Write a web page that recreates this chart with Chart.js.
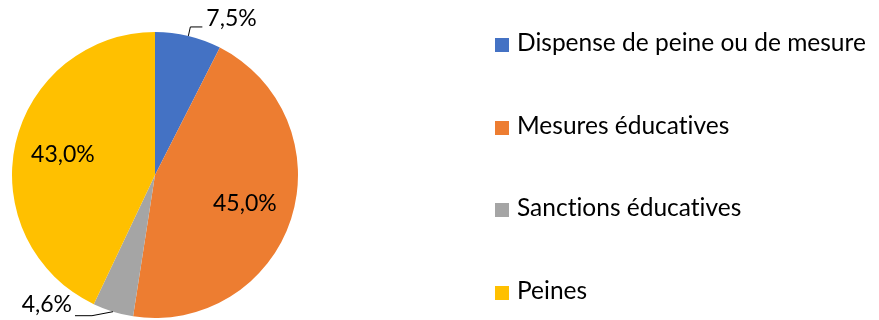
<!DOCTYPE html>
<html>
<head>
<meta charset="utf-8">
<script src="https://cdn.jsdelivr.net/npm/chart.js@4/dist/chart.umd.min.js"></script>
<style>
  html, body { margin: 0; padding: 0; background: #fff; }
  #wrap { position: relative; width: 879px; height: 320px; }
  #legend { position: absolute; left: 495px; top: 0; margin: 0; padding: 0; list-style: none;
            font-family: Lato, "Open Sans", sans-serif; font-size: 24.5px; color: #000;
            font-variant-ligatures: none; }
  #legend li { position: absolute; left: 0; white-space: nowrap; height: 28px; line-height: 28px; }
  #legend span.box { display: inline-block; width: 14px; height: 14px; margin-right: 8px; vertical-align: -1px; }
</style>
</head>
<body>
<div id="wrap">
  <canvas id="pieChart" width="879" height="320"></canvas>
  <ul id="legend"></ul>
</div>
<script>
const categories = ['Dispense de peine ou de mesure', 'Mesures éducatives', 'Sanctions éducatives', 'Peines'];
const shares = [7.5, 45.0, 4.6, 43.0];
const colors = ['#4472C4', '#ED7D31', '#A5A5A5', '#FFC000'];

// where each percentage goes: inside the slice, or outside with a leader line
const labelModes = ['outRight', 'inside', 'outLeft', 'inside'];

function fmt(v) {
    return v.toFixed(1).replace('.', ',') + '%';
}

const pieLabels = {
    id: 'pieLabels',
    afterDatasetsDraw(chart) {
        const ctx = chart.ctx;
        const arcs = chart.getDatasetMeta(0).data;
        ctx.save();
        ctx.font = '23px Lato, "Open Sans", sans-serif';
        ctx.fillStyle = '#000';
        ctx.strokeStyle = '#000';
        ctx.lineWidth = 1;
        arcs.forEach(function(arc, i) {
            const p = arc.getProps(['x', 'y', 'startAngle', 'endAngle', 'outerRadius'], true);
            const mid = (p.startAngle + p.endAngle) / 2;
            const text = fmt(shares[i]);
            if (labelModes[i] === 'inside') {
                const r = p.outerRadius * 0.66;
                ctx.textAlign = 'center';
                ctx.textBaseline = 'middle';
                ctx.fillText(text, p.x + Math.cos(mid) * r, p.y + Math.sin(mid) * r);
                return;
            }
            const ex = p.x + Math.cos(mid) * p.outerRadius;
            const ey = p.y + Math.sin(mid) * p.outerRadius;
            ctx.beginPath();
            ctx.moveTo(ex, ey);
            if (labelModes[i] === 'outRight') {
                const kx = ex + 2, ky = ey - 9;
                ctx.lineTo(kx, ky);
                ctx.lineTo(kx + 12, ky);
                ctx.stroke();
                ctx.textAlign = 'left';
                ctx.textBaseline = 'middle';
                ctx.fillText(text, kx + 16, ky - 8);
            } else {
                const kx = ex - 21, ky = ey + 4;
                ctx.lineTo(kx, ky);
                ctx.lineTo(kx - 17, ky);
                ctx.stroke();
                ctx.textAlign = 'right';
                ctx.textBaseline = 'middle';
                ctx.fillText(text, kx - 20, ky - 11);
            }
        });
        ctx.restore();
    }
};

new Chart(document.getElementById('pieChart').getContext('2d'), {
    type: 'pie',
    data: {
        labels: categories,
        datasets: [{
            data: shares,
            backgroundColor: colors,
            borderWidth: 0
        }]
    },
    options: {
        responsive: false,
        animation: false,
        layout: { padding: { left: 12, top: 32, right: 581, bottom: 2 } },
        plugins: {
            legend: { display: false },
            tooltip: { enabled: false }
        }
    },
    plugins: [pieLabels]
});

// legend column on the right
const legend = document.getElementById('legend');
categories.forEach(function(name, i) {
    const li = document.createElement('li');
    li.style.top = (28 + i * 82.5) + 'px';
    li.innerHTML = '<span class="box" style="background:' + colors[i] + '"></span>' + name;
    legend.appendChild(li);
});
</script>
</body>
</html>
